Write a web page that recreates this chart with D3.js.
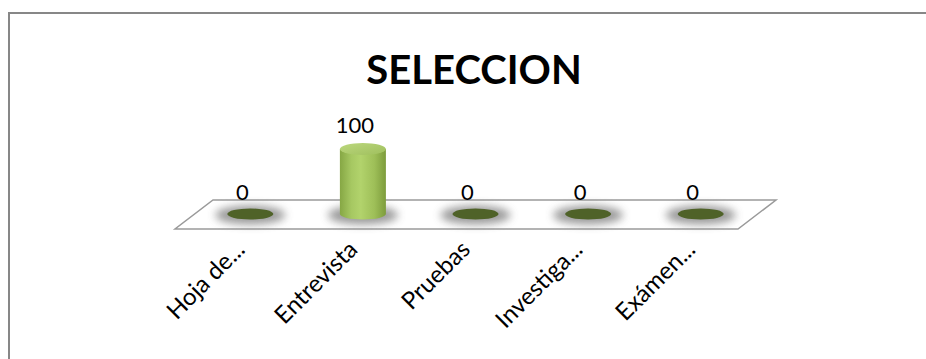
<!DOCTYPE html>
<html><head><meta charset="utf-8">
<script src="https://cdn.jsdelivr.net/npm/d3@7"></script>
<style>body{margin:0;background:#fff}svg{display:block}</style>
</head><body>
<script>
const categories = ["Hoja de...", "Entrevista", "Pruebas", "Investiga...", "Exámen..."];
const values = [0, 100, 0, 0, 0];
const title = "SELECCION";

const W = 926, H = 359;
const svg = d3.select("body").append("svg").attr("width", W).attr("height", H);
const defs = svg.append("defs");

const lg = defs.append("linearGradient").attr("id", "cyl").attr("x1", "0").attr("x2", "1").attr("y1", "0").attr("y2", "0");
[["0%", "#86a744"], ["25%", "#a6c862"], ["45%", "#b2d36c"], ["75%", "#9ebf58"], ["100%", "#7d9c3c"]]
  .forEach(([o, c]) => lg.append("stop").attr("offset", o).attr("stop-color", c));
const tg = defs.append("linearGradient").attr("id", "cyltop").attr("x1", "0").attr("x2", "1").attr("y1", "0").attr("y2", "1");
[["0%", "#bcd87e"], ["100%", "#9fbf5d"]].forEach(([o, c]) => tg.append("stop").attr("offset", o).attr("stop-color", c));
defs.append("filter").attr("id", "blur").attr("x", "-50%").attr("y", "-100%").attr("width", "200%").attr("height", "300%")
  .append("feGaussianBlur").attr("stdDeviation", 4);

// chart border
svg.append("rect").attr("x", 9).attr("y", 13).attr("width", 930).attr("height", 360)
  .attr("fill", "none").attr("stroke", "#878787").attr("stroke-width", 2);

// title
svg.append("text").attr("x", 474).attr("y", 84).attr("text-anchor", "middle")
  .attr("font-family", "Lato, 'Open Sans', sans-serif").attr("font-weight", "bold").attr("font-size", 40)
  .attr("fill", "#000").text(title);

// floor
const floorBackY = 200, floorFrontY = 229, skew = 38;
const x = d3.scaleBand().domain(categories).range([194, 757]).padding(0);
const baseY = 214;
const y = d3.scaleLinear().domain([0, 100]).range([baseY, 149]);

const fl = x.range()[0] - skew / 2, fr = x.range()[1] - skew / 2;
svg.append("path")
  .attr("d", `M${x.range()[0] + skew / 2},${floorBackY} L${x.range()[1] + skew / 2},${floorBackY} L${fr},${floorFrontY} L${fl},${floorFrontY} Z`)
  .attr("fill", "#fff").attr("stroke", "#9a9a9a").attr("stroke-width", 1.5);

const rx = 23, ry = 5.5;
const g = svg.append("g");
categories.forEach((c, i) => {
  const cx = x(c) + x.bandwidth() / 2;
  const v = values[i];
  // shadow
  g.append("ellipse").attr("cx", cx).attr("cy", baseY + 1).attr("rx", rx + 12).attr("ry", ry + 4)
    .attr("fill", "#888").attr("opacity", 0.85).attr("filter", "url(#blur)");
  if (v > 0) {
    const top = y(v);
    g.append("path")
      .attr("d", `M${cx - rx},${top} L${cx - rx},${baseY} A${rx},${ry} 0 0 0 ${cx + rx},${baseY} L${cx + rx},${top} Z`)
      .attr("fill", "url(#cyl)");
    g.append("ellipse").attr("cx", cx).attr("cy", top).attr("rx", rx).attr("ry", ry + 0.5).attr("fill", "url(#cyltop)");
  } else {
    g.append("ellipse").attr("cx", cx).attr("cy", baseY).attr("rx", rx).attr("ry", ry).attr("fill", "#4f6228");
  }
  // data label
  g.append("text").attr("x", cx - 8).attr("y", y(v) - (v > 0 ? 16 : 14)).attr("text-anchor", "middle")
    .attr("font-family", "Lato, 'Open Sans', sans-serif").attr("font-size", 22).attr("fill", "#000").text(v);
  // category label
  g.append("text").attr("transform", `translate(${cx - 4},${floorFrontY + 22}) rotate(-45)`)
    .attr("text-anchor", "end").attr("font-family", "Lato, 'Open Sans', sans-serif").attr("font-size", 24)
    .attr("fill", "#000").text(c);
});
</script>
</body></html>
